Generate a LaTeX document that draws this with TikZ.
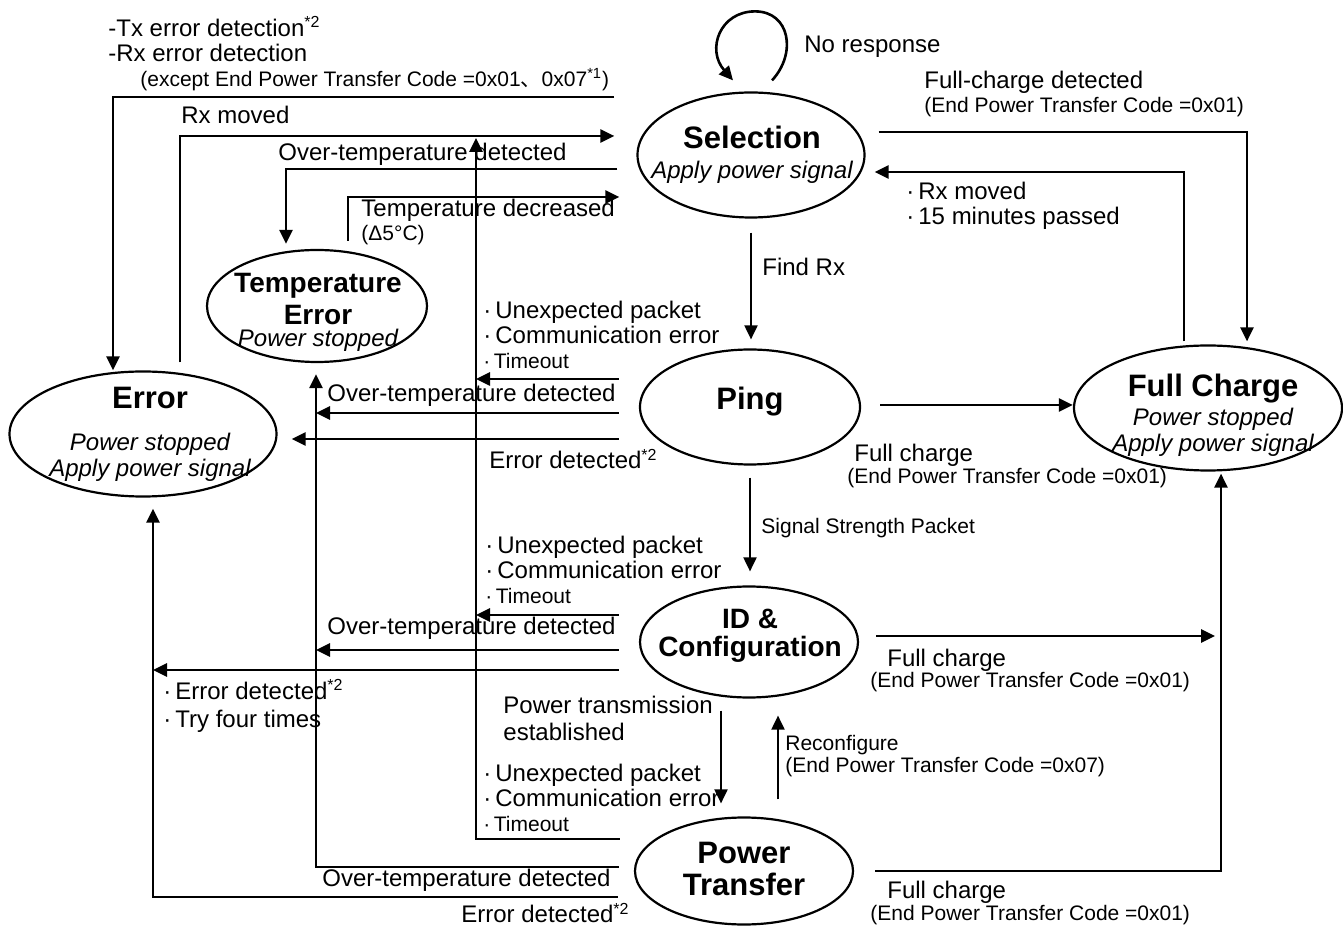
\documentclass[tikz,border=0pt]{standalone}
\usepackage{fontspec}
\setmainfont{Liberation Sans}
\newfontfamily\cjkfont{Noto Sans CJK JP}
\usetikzlibrary{shapes,arrows.meta}
\newcommand\stname[2][15.5]{{\fontsize{#1}{13}\selectfont\bfseries #2}}
\newcommand\stnote[1]{{\itshape #1}}

\begin{document}
\begin{tikzpicture}[x=0.5pt,y=-0.5pt,
	state/.style={ellipse,draw,line width=1.1pt,inner sep=0pt},
	stext/.style={align=center,inner sep=0pt,font=\fontsize{12}{13}\selectfont},
	lbl/.style={align=left,anchor=west,inner sep=0pt,font=\fontsize{12}{12.5}\selectfont},
	sml/.style={align=left,anchor=west,inner sep=0pt,font=\fontsize{10.5}{11.5}\selectfont},
	arr/.style={line width=1.3pt,-{Triangle[length=7pt,width=6.5pt]}},
	thinarr/.style={line width=1pt,-{Triangle[length=7pt,width=6.5pt]}}]
\useasboundingbox (0,0) rectangle (1343,929);

\node [state,minimum width=113.5pt,minimum height=62.5pt] (sel) at (751,155) {};
\node [state,minimum width=110pt,minimum height=57.5pt] (ping) at (750,407) {};
\node [state,minimum width=109pt,minimum height=55.5pt] (idc) at (749,642) {};
\node [state,minimum width=109pt,minimum height=53.5pt] (pt) at (744,871) {};
\node [state,minimum width=134pt,minimum height=62.5pt] (fc) at (1208,408) {};
\node [state,minimum width=133.5pt,minimum height=62.5pt] (err) at (143,434) {};
\node [state,minimum width=110pt,minimum height=56pt] (terr) at (317,306) {};

\node [stext] (sel-t) at (752,155) {\stname{Selection}\\[2pt]\stnote{Apply power signal}};
\node [stext] (ping-t) at (750,402) {\stname{Ping}};
\node [stext] (idc-t) at (750,636) {\stname[14]{ID \&}\\[1pt]\stname[14]{Configuration}};
\node [stext] (pt-t) at (744,869) {\stname{Power}\\[3pt]\stname{Transfer}};
\node [stext] (fc-t) at (1213,415) {\stname{Full Charge}\\[1.5pt]\stnote{Power stopped}\\\stnote{Apply power signal}};
\node [stext] (err-t) at (150,434) {\stname{Error}\\[8pt]\stnote{Power stopped}\\\stnote{Apply power signal}};
\node [stext] (terr-t) at (318,312) {\stname[14]{Temperature}\\[3pt]\stname[14]{Error}\\[-2pt]\stnote{Power stopped}};

\coordinate (anyerr) at (614,97);
\coordinate (busT) at (476,138);
\coordinate (busO) at ([shift={(-1,11)}]terr.south);
\coordinate (busE) at ([shift={(10,11)}]err.south);
\coordinate (ping-tm) at ([shift={(-20,-28)}]ping.west);
\coordinate (ping-ot) at ([shift={(-20,6)}]ping.west);
\coordinate (ping-er) at ([shift={(-20,32)}]ping.west);
\coordinate (idc-tm) at ([shift={(-20,-27)}]idc.west);
\coordinate (idc-ot) at ([shift={(-20,8)}]idc.west);
\coordinate (idc-er) at ([shift={(-20,28)}]idc.west);
\coordinate (pt-tm) at ([shift={(-14,-32)}]pt.west);
\coordinate (pt-ot) at ([shift={(-15,-4)}]pt.west);
\coordinate (pt-er) at ([shift={(-16,26)}]pt.west);

\draw [arr] (anyerr) -| ([shift={(-30,0)}]err.north);
\draw [arr] ([shift={(37,-8)}]err.north) |- ([shift={(-22,-19)}]sel.west);
\draw [arr] ([shift={(-19,14)}]sel.west) -| ([shift={(-31,-5)}]terr.north);
\draw [arr] ([shift={(31,-8)}]terr.north) |- ([shift={(-17,42)}]sel.west);
\draw [arr] ([shift={(21,-11)}]sel.north) .. controls ([shift={(46,-38)}]sel.north) and ([shift={(39,-80)}]sel.north) .. ([shift={(4,-80)}]sel.north)
	.. controls ([shift={(-31,-80)}]sel.north) and ([shift={(-45,-42)}]sel.north) .. ([shift={(-18,-11)}]sel.north);
\draw [thinarr,shorten <=7pt,shorten >=4.5pt] (sel.south) -- (sel.south |- ping.north);
\draw [thinarr,shorten <=6pt,shorten >=7pt] (ping.south) -- (ping.south |- idc.north);
\draw [thinarr] ([shift={(-28,12)}]idc.south) -- ([shift={(-23,-13)}]pt.north);
\draw [thinarr] ([shift={(34,-17)}]pt.north) -- ([shift={(29,17)}]idc.south);
\draw [arr] ([shift={(13,-23)}]sel.east) -| ([shift={(39,-3)}]fc.north);
\draw [arr] ([shift={(-24,-3)}]fc.north) |- ([shift={(9,17)}]sel.east);
\draw [arr] ([shift={(19,-2)}]ping.east) -- ([shift={(0,-3)}]fc.west);
\draw [arr] ([shift={(17,-6)}]idc.east) -- ([shift={(356,-6)}]idc.east);
\draw [arr] ([shift={(21,0)}]pt.east) -| ([shift={(13,2)}]fc.south);
\draw [arr] (ping-tm) -- (ping-tm -| busT);
\draw [arr] (idc-tm) -- (idc-tm -| busT);
\draw [arr] (pt-tm) -| (busT);
\draw [arr] (ping-ot) -- (ping-ot -| busO);
\draw [arr] (idc-ot) -- (idc-ot -| busO);
\draw [arr] (pt-ot) -| (busO);
\draw [arr] (ping-er) -- ([shift={(14,5)}]err.east);
\draw [arr] (idc-er) -- (idc-er -| busE);
\draw [arr] (pt-er) -| (busE);

\node [lbl] (txerr) at (108,39) {-Tx error detection\textsuperscript{*2}\\-Rx error detection};
\node [sml] (except) at (140,80) {(except End Power Transfer Code =0x01{\cjkfont 、}0x07\textsuperscript{*1})};
\node [lbl] (rxmv) at (181,115) {Rx moved};
\node [lbl] (otsel) at (278,154) {Over-temperature detected};
\node [lbl] (tdec) at (361,210) {Temperature decreased};
\node [sml] (dlt) at (361,235) {(Δ5°C)};
\node [lbl] (noresp) at (804,47) {No response};
\node [lbl] (fcd) at (924,82) {Full-charge detected};
\node [sml] (fcd-c) at (924,107) {(End Power Transfer Code =0x01)};
\node [lbl] (rxmv2) at (906,205.5) {·\,Rx moved\\·\,15 minutes passed};
\node [lbl] (findrx) at (762,267) {Find Rx};
\node [lbl] (ping-tmx) at (483,335) {·\,Unexpected packet\\·\,Communication error\\{\fontsize{10.5}{11}\selectfont ·\,Timeout}};
\node [lbl] (ping-otx) at (327,395) {Over-temperature detected};
\node [lbl] (ping-erx) at (489,459) {Error detected\textsuperscript{*2}};
\node [lbl] (ping-fc) at (854,455) {Full charge};
\node [sml] (ping-fcc) at (847,478) {(End Power Transfer Code =0x01)};
\node [sml] (ssp) at (761,528) {Signal Strength Packet};
\node [lbl] (idc-tmx) at (485,570) {·\,Unexpected packet\\·\,Communication error\\{\fontsize{10.5}{11}\selectfont ·\,Timeout}};
\node [lbl] (idc-otx) at (327,628) {Over-temperature detected};
\node [lbl] (idc-erx) at (163,706) {·\,Error detected\textsuperscript{*2}\\[1.5pt]·\,Try four times};
\node [lbl] (idc-fc) at (887,660) {Full charge};
\node [sml] (idc-fcc) at (870,682) {(End Power Transfer Code =0x01)};
\node [lbl] (pte) at (503,718.5) {Power transmission\\[1pt]established};
\node [sml] (reconf) at (785,756) {Reconfigure\\[-0.5pt](End Power Transfer Code =0x07)};
\node [lbl] (pt-tmx) at (483,798) {·\,Unexpected packet\\·\,Communication error\\{\fontsize{10.5}{11}\selectfont ·\,Timeout}};
\node [lbl] (pt-otx) at (322,880) {Over-temperature detected};
\node [lbl] (pt-erx) at (461,913) {Error detected\textsuperscript{*2}};
\node [lbl] (pt-fc) at (887,892) {Full charge};
\node [sml] (pt-fcc) at (870,915) {(End Power Transfer Code =0x01)};
\end{tikzpicture}
\end{document}
